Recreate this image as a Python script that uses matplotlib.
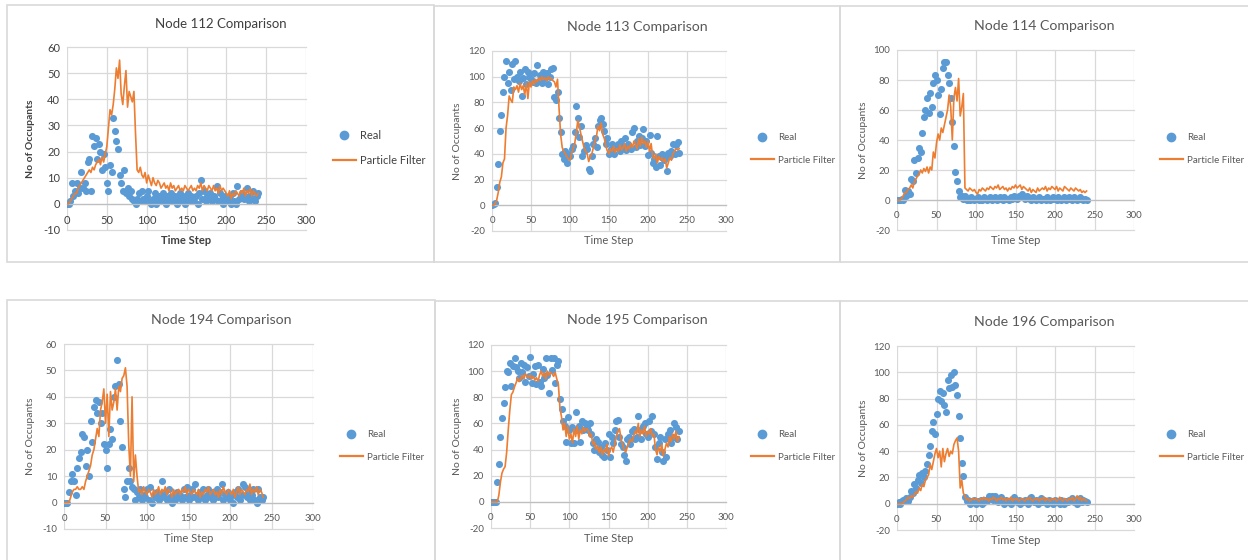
import matplotlib
matplotlib.use('Agg')
import matplotlib.pyplot as plt
from matplotlib.lines import Line2D
from matplotlib.patches import Rectangle

plt.rcParams['font.family'] = ['Lato', 'DejaVu Sans']
plt.rcParams['axes.unicode_minus'] = False

W, H = 1248, 560

# time steps (every second step)
steps = list(range(0, 241, 2))

real_112 = [0, 0, 1, 8, 3, 5, 8, 4, 6, 12,
            6, 8, 5, 16, 17, 5, 26, 22, 25, 17,
            23, 20, 13, 19, 14, 8, 5, 15, 12, 33,
            28, 24, 21, 11, 8, 5, 13, 4, 6, 3,
            5, 2, 1, 0, 2, 4, 1, 5, 2, 1,
            3, 5, 1, 0, 2, 4, 0, 2, 3, 1,
            4, 2, 0, 3, 1, 4, 2, 1, 3, 0,
            2, 4, 1, 3, 0, 2, 4, 1, 3, 2,
            1, 3, 0, 4, 9, 2, 5, 1, 3, 2,
            4, 1, 3, 2, 7, 1, 4, 2, 0, 3,
            2, 1, 3, 0, 4, 1, 0, 7, 2, 3,
            4, 2, 3, 6, 1, 3, 2, 5, 1, 3,
            4]
pf_112 = [0, 0, 1, 2, 3, 4, 4, 6, 7, 8,
          9, 10, 11, 12, 13, 12, 14, 13, 15, 16,
          17, 15, 18, 16, 19, 22, 29, 36, 34, 38,
          44, 52, 48, 55, 42, 38, 45, 51, 37, 43,
          41, 39, 43, 27, 13, 12, 14, 11, 10, 12,
          8, 11, 9, 7, 10, 8, 7, 9, 8, 6,
          7, 8, 6, 7, 5, 8, 6, 7, 5, 6,
          7, 5, 6, 5, 7, 6, 5, 6, 7, 5,
          6, 5, 7, 6, 8, 5, 7, 6, 5, 7,
          6, 5, 7, 5, 6, 4, 7, 5, 6, 5,
          4, 3, 5, 2, 4, 3, 5, 4, 3, 5,
          4, 6, 3, 5, 4, 6, 3, 5, 4, 3,
          4]

real_113 = [0, 1, 2, 14, 32, 58, 70, 88, 100, 112,
            95, 104, 90, 110, 98, 112, 100, 97, 104, 85,
            99, 106, 94, 104, 100, 98, 96, 103, 95, 109,
            97, 101, 95, 104, 99, 103, 94, 100, 106, 107,
            84, 82, 88, 68, 57, 40, 36, 42, 33, 40,
            38, 44, 46, 57, 77, 68, 53, 62, 38, 42,
            47, 44, 28, 27, 38, 48, 52, 45, 62, 66,
            68, 63, 58, 48, 52, 40, 44, 48, 40, 46,
            45, 48, 42, 50, 46, 52, 43, 48, 46, 44,
            57, 60, 45, 50, 54, 47, 52, 59, 46, 50,
            39, 55, 41, 33, 36, 30, 54, 38, 31, 40,
            35, 37, 27, 41, 38, 42, 48, 40, 47, 49,
            41]
pf_113 = [0, 0, 1, 4, 10, 18, 22, 33, 36, 60,
          70, 85, 82, 80, 92, 90, 93, 88, 95, 90,
          93, 86, 95, 83, 96, 92, 97, 94, 98, 96,
          99, 97, 100, 98, 99, 97, 100, 98, 99, 97,
          96, 92, 98, 75, 55, 45, 42, 40, 38, 36,
          35, 40, 44, 48, 56, 66, 62, 55, 50, 45,
          42, 40, 34, 38, 40, 45, 50, 54, 62, 58,
          64, 55, 52, 46, 42, 40, 44, 42, 46, 41,
          44, 42, 47, 43, 45, 48, 42, 46, 44, 48,
          45, 50, 47, 44, 52, 46, 53, 48, 50, 45,
          50, 42, 48, 38, 36, 40, 33, 38, 35, 37,
          34, 36, 29, 33, 37, 35, 40, 42, 44, 43,
          44]

real_114 = [0, 0, 0, 1, 0, 7, 3, 6, 4, 14,
            13, 27, 18, 28, 35, 32, 45, 55, 60, 68,
            58, 71, 62, 78, 83, 80, 70, 57, 74, 88,
            92, 92, 83, 78, 68, 52, 36, 19, 13, 6,
            2, 3, 1, 3, 0, 1, 0, 2, 1, 0,
            1, 2, 0, 1, 0, 2, 1, 0, 1, 2,
            0, 1, 2, 0, 1, 2, 1, 0, 2, 1,
            1, 0, 2, 1, 3, 2, 1, 3, 2, 4,
            2, 1, 3, 2, 1, 0, 2, 1, 0, 1,
            2, 0, 1, 1, 0, 2, 1, 0, 1, 2,
            1, 0, 2, 1, 0, 1, 2, 0, 1, 2,
            1, 0, 2, 1, 0, 1, 2, 1, 0, 1,
            0]
pf_114 = [0, 0, 0, 1, 3, 5, 5, 7, 8, 10,
          8, 12, 14, 16, 17, 20, 18, 21, 19, 22,
          18, 22, 20, 32, 28, 38, 44, 40, 48, 45,
          50, 55, 60, 70, 62, 40, 68, 75, 66, 81,
          56, 62, 71, 8, 7, 6, 8, 7, 6, 7,
          5, 4, 7, 6, 8, 7, 6, 8, 7, 9,
          8, 7, 9, 8, 10, 7, 8, 9, 7, 8,
          6, 8, 7, 9, 8, 10, 8, 9, 10, 7,
          9, 8, 7, 6, 8, 5, 7, 6, 5, 8,
          6, 7, 8, 7, 9, 6, 8, 7, 9, 8,
          7, 9, 6, 8, 7, 6, 9, 8, 7, 6,
          8, 7, 6, 8, 7, 6, 7, 5, 6, 5,
          6]

real_194 = [0, 0, 0, 4, 8, 11, 8, 3, 13, 17,
            19, 26, 25, 14, 20, 10, 31, 23, 36, 39,
            34, 38, 30, 34, 22, 20, 13, 22, 28, 24,
            40, 44, 54, 45, 31, 21, 5, 2, 8, 13,
            8, 6, 5, 1, 4, 2, 5, 1, 3, 2,
            5, 1, 6, 0, 3, 2, 4, 1, 3, 8,
            2, 4, 1, 5, 2, 0, 3, 1, 4, 2,
            3, 1, 5, 2, 6, 1, 3, 5, 2, 7,
            3, 1, 4, 2, 5, 1, 3, 5, 2, 4,
            1, 3, 5, 2, 4, 7, 1, 3, 2, 4,
            1, 3, 0, 4, 2, 5, 1, 3, 7, 6,
            2, 4, 1, 3, 5, 1, 0, 5, 2, 1,
            2]
pf_194 = [0, 0, 0, 0, 2, 4, 5, 5, 6, 5,
          5, 6, 5, 8, 10, 12, 14, 18, 20, 24,
          28, 25, 35, 38, 43, 30, 41, 25, 42, 35,
          38, 43, 35, 44, 42, 47, 48, 51, 44, 22,
          10, 40, 8, 18, 10, 4, 5, 3, 6, 4,
          3, 5, 4, 2, 5, 3, 4, 6, 3, 5,
          4, 6, 3, 5, 4, 2, 5, 3, 4, 5,
          3, 5, 4, 6, 3, 5, 4, 3, 5, 4,
          3, 5, 2, 4, 3, 5, 4, 6, 3, 4,
          5, 3, 4, 2, 5, 3, 6, 4, 3, 5,
          4, 3, 5, 2, 4, 6, 3, 5, 4, 3,
          5, 4, 7, 3, 5, 4, 6, 3, 5, 4,
          2]

real_195 = [0, 0, 0, 0, 15, 29, 50, 64, 76, 88,
            100, 99, 106, 89, 104, 110, 103, 100, 95, 106,
            99, 105, 92, 103, 96, 111, 91, 98, 104, 90,
            105, 92, 89, 102, 95, 110, 97, 83, 110, 101,
            110, 91, 105, 108, 79, 71, 62, 58, 46, 65,
            55, 45, 57, 45, 69, 55, 58, 46, 62, 55,
            60, 57, 55, 60, 52, 45, 40, 48, 46, 38,
            42, 36, 34, 45, 40, 52, 34, 50, 45, 55,
            62, 63, 50, 44, 42, 36, 31, 48, 50, 44,
            54, 56, 48, 50, 66, 55, 48, 58, 60, 52,
            50, 62, 54, 66, 52, 42, 33, 45, 50, 38,
            31, 48, 34, 52, 55, 45, 50, 60, 57, 48,
            54]
pf_195 = [0, 0, 0, 0, 0, 5, 15, 22, 25, 27,
          38, 55, 70, 82, 84, 88, 91, 95, 92, 94,
          97, 94, 98, 96, 95, 97, 94, 96, 93, 95,
          92, 97, 100, 96, 99, 94, 100, 97, 99, 98,
          96, 99, 94, 90, 72, 65, 55, 60, 50, 58,
          48, 52, 45, 56, 50, 58, 48, 55, 52, 57,
          54, 56, 55, 50, 52, 44, 46, 40, 43, 38,
          42, 36, 40, 38, 44, 35, 40, 42, 38, 44,
          50, 54, 56, 48, 44, 40, 38, 42, 45, 48,
          46, 50, 54, 52, 60, 50, 55, 52, 58, 50,
          54, 52, 56, 50, 52, 40, 36, 42, 38, 44,
          35, 40, 45, 42, 50, 46, 52, 48, 54, 46,
          50]

real_196 = [0, 1, 0, 2, 3, 3, 4, 2, 5, 10,
            8, 15, 12, 18, 22, 16, 23, 20, 25, 30,
            37, 44, 55, 62, 53, 68, 80, 86, 78, 84,
            75, 70, 94, 88, 98, 89, 100, 90, 83, 67,
            50, 31, 21, 5, 2, 3, 0, 2, 1, 3,
            0, 2, 1, 3, 0, 1, 3, 2, 6, 4,
            6, 3, 6, 2, 1, 3, 5, 2, 0, 3,
            1, 2, 0, 3, 5, 2, 1, 3, 0, 2,
            1, 3, 2, 0, 4, 5, 2, 1, 3, 0,
            2, 4, 1, 3, 2, 0, 3, 1, 2, 0,
            3, 1, 2, 0, 3, 1, 0, 2, 1, 3,
            2, 4, 1, 3, 0, 2, 4, 1, 3, 2,
            1]
pf_196 = [0, 0, 0, 0, 1, 2, 3, 5, 4, 6,
          5, 7, 9, 8, 12, 10, 15, 13, 18, 20,
          22, 30, 26, 32, 38, 42, 35, 40, 28, 42,
          32, 38, 42, 36, 40, 38, 45, 48, 50, 40,
          12, 18, 8, 6, 3, 4, 2, 3, 4, 3,
          4, 3, 2, 4, 3, 5, 3, 4, 2, 4,
          3, 5, 4, 2, 4, 3, 5, 3, 4, 2,
          4, 3, 5, 2, 4, 3, 4, 2, 3, 4,
          3, 2, 4, 3, 5, 3, 2, 4, 3, 4,
          2, 4, 3, 5, 2, 4, 3, 2, 4, 3,
          4, 2, 3, 5, 3, 2, 4, 3, 2, 4,
          3, 5, 2, 4, 6, 3, 5, 2, 4, 3,
          2]

BLUE = '#5B9BD5'
ORANGE = '#ED7D31'
GRID = '#d9d9d9'


def fig_rect(left, top, right, bottom):
    # pixel box -> figure fraction [x, y, w, h]
    return [left / W, 1 - bottom / H, (right - left) / W, (bottom - top) / H]


fig = plt.figure(figsize=(W / 100, H / 100), dpi=100)

# chart frames like the pasted Excel charts
frames = [(7, 5, 434, 262), (434, 6, 840, 262), (840, 6, 1252, 262),
          (7, 300, 435, 566), (435, 301, 840, 566), (840, 301, 1252, 566)]
for l, t, r, b in frames:
    x, y, w, h = fig_rect(l, t, r, b)
    fig.patches.append(Rectangle((x, y), w, h, transform=fig.transFigure,
                                 fill=False, edgecolor=GRID, lw=1.2))

panels = [
    dict(node='112', real=real_112, pf=pf_112, ylim=(-10, 60), ystep=10,
         box=(67, 47, 306, 230), frame=frames[0], title_y=24, leg=(333, 148),
         ylab_x=31, xlab_y=241, dark=True),
    dict(node='113', real=real_113, pf=pf_113, ylim=(-20, 120), ystep=20,
         box=(492, 51, 726, 231), frame=frames[1], title_y=27, leg=(751, 149),
         ylab_x=458, xlab_y=241, dark=False),
    dict(node='114', real=real_114, pf=pf_114, ylim=(-20, 100), ystep=20,
         box=(897, 50, 1134, 230), frame=frames[2], title_y=26, leg=(1160, 149),
         ylab_x=863, xlab_y=241, dark=False),
    dict(node='194', real=real_194, pf=pf_194, ylim=(-10, 60), ystep=10,
         box=(64, 344, 313, 529), frame=frames[3], title_y=320, leg=(340, 446),
         ylab_x=31, xlab_y=539, dark=False),
    dict(node='195', real=real_195, pf=pf_195, ylim=(-20, 120), ystep=20,
         box=(491, 345, 726, 528), frame=frames[4], title_y=320, leg=(751, 446),
         ylab_x=458, xlab_y=538, dark=False),
    dict(node='196', real=real_196, pf=pf_196, ylim=(-20, 120), ystep=20,
         box=(897, 346, 1134, 530), frame=frames[5], title_y=322, leg=(1160, 446),
         ylab_x=863, xlab_y=540, dark=False),
]

for p in panels:
    dark = p['dark']
    tc = '#404040' if dark else '#595959'
    fs = 8 if dark else 7
    ax = fig.add_axes(fig_rect(*p['box']))
    ax.scatter(steps, p['real'], s=26, color=BLUE, linewidths=0, zorder=2)
    ax.plot(steps, p['pf'], color=ORANGE, lw=1.2, zorder=3)

    lo, hi = p['ylim']
    ax.set_xlim(0, 300)
    ax.set_ylim(lo, hi)
    ax.set_xticks(range(0, 301, 50))
    ax.set_yticks(range(lo, hi + 1, p['ystep']))
    ax.grid(True, color=GRID, lw=0.9)
    ax.set_axisbelow(True)
    for line in ax.get_xgridlines() + ax.get_ygridlines():
        line.set_clip_on(False)
    for s in ['top', 'right', 'left']:
        ax.spines[s].set_visible(False)
    ax.spines['bottom'].set_position(('data', 0))
    ax.spines['bottom'].set_color('#bfbfbf')
    ax.spines['bottom'].set_linewidth(0.9)
    ax.tick_params(length=0, labelsize=fs, colors=tc)
    ax.tick_params(axis='x', pad=8)
    ax.tick_params(axis='y', pad=5)

    # title centred on the chart frame
    fl, ft, fr, fb = p['frame']
    fig.text(((fl + min(fr, W)) / 2) / W, 1 - p['title_y'] / H,
             'Node %s Comparison' % p['node'], ha='center', va='center',
             fontsize=9.5 if dark else 10.2, color=tc)

    l, t, r, b = p['box']
    wt = 'bold' if dark else 'normal'
    fig.text(p['ylab_x'] / W, 1 - ((t + b) / 2) / H, 'No of Occupants',
             rotation=90, ha='center', va='center', fontsize=7.5,
             color=tc, fontweight=wt)
    fig.text(((l + r) / 2) / W, 1 - p['xlab_y'] / H, 'Time Step',
             ha='center', va='center', fontsize=8, color=tc, fontweight=wt)

    handles = [Line2D([], [], ls='none', marker='o', ms=6, color=BLUE),
               Line2D([], [], color=ORANGE, lw=1.6)]
    lx, ly = p['leg']
    ax.legend(handles, ['Real', 'Particle Filter'], loc='center left',
              bbox_to_anchor=(lx / W, 1 - ly / H), bbox_transform=fig.transFigure,
              frameon=False, fontsize=fs, handlelength=2.2 * 7.5 / fs,
              handletextpad=0.4, labelspacing=1.3 * 7.5 / fs,
              borderpad=0, borderaxespad=0, labelcolor=tc)

fig.savefig('out.png', dpi=100, facecolor='white')
